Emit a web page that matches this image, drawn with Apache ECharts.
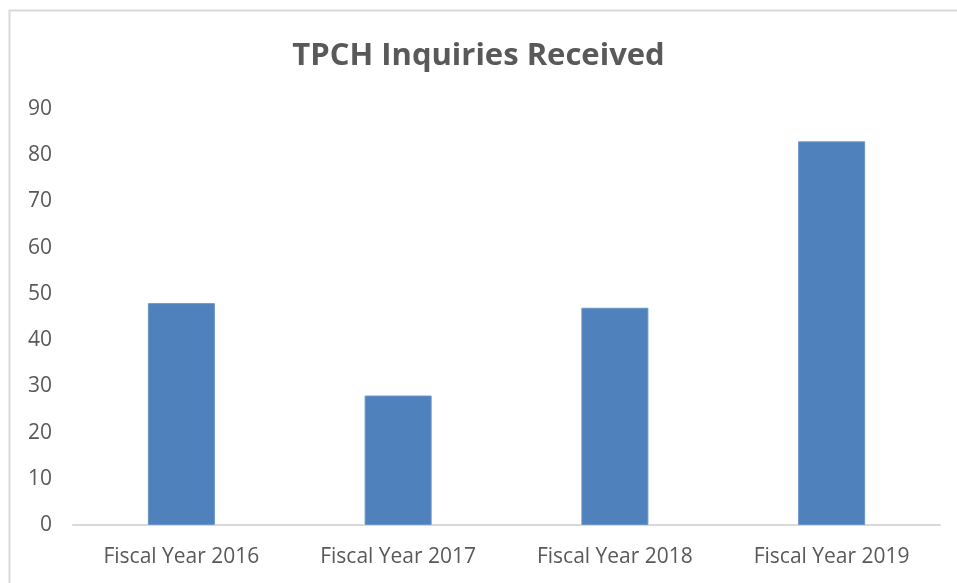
<!DOCTYPE html>
<html><head><meta charset="utf-8">
<script src="https://cdn.jsdelivr.net/npm/echarts@6/dist/echarts.min.js"></script>
<style>html,body{margin:0;padding:0;background:#fff}#c{width:957px;height:583px}</style>
</head><body><div id="c"></div>
<script>
const categories = ['Fiscal Year 2016', 'Fiscal Year 2017', 'Fiscal Year 2018', 'Fiscal Year 2019'];
const values = [48, 28, 47, 83];
const titleText = 'TPCH Inquiries Received';

const chart = echarts.init(document.getElementById('c'));
const FONT = 'Open Sans';
chart.setOption({
  animation: false,
  backgroundColor: '#fff',
  graphic: [{
    type: 'rect', shape: { x: 9.5, y: 10.5, width: 1000, height: 1000 },
    style: { fill: 'none', stroke: '#d9d9d9', lineWidth: 2 }, silent: true, z: -1
  }],
  title: {
    text: titleText, left: 'center', top: 36,
    textStyle: { fontFamily: FONT, fontSize: 31, fontWeight: 'bold', color: '#595959' }
  },
  grid: { left: 73, right: 17, top: 109, bottom: 58, containLabel: false },
  xAxis: {
    type: 'category', data: categories,
    axisLine: { lineStyle: { color: '#d9d9d9', width: 2 } },
    axisTick: { show: false },
    axisLabel: { fontFamily: FONT, fontSize: 21, color: '#595959', margin: 22 }
  },
  yAxis: {
    type: 'value', min: 0, max: 90, interval: 10,
    axisLine: { show: false }, axisTick: { show: false },
    splitLine: { show: false },
    axisLabel: { fontFamily: FONT, fontSize: 21, color: '#595959', margin: 21 }
  },
  series: [{
    type: 'bar', data: values, barWidth: 67,
    itemStyle: { color: '#4F81BD', borderColor: '#6b94c9', borderWidth: 1 }
  }]
});
</script></body></html>
